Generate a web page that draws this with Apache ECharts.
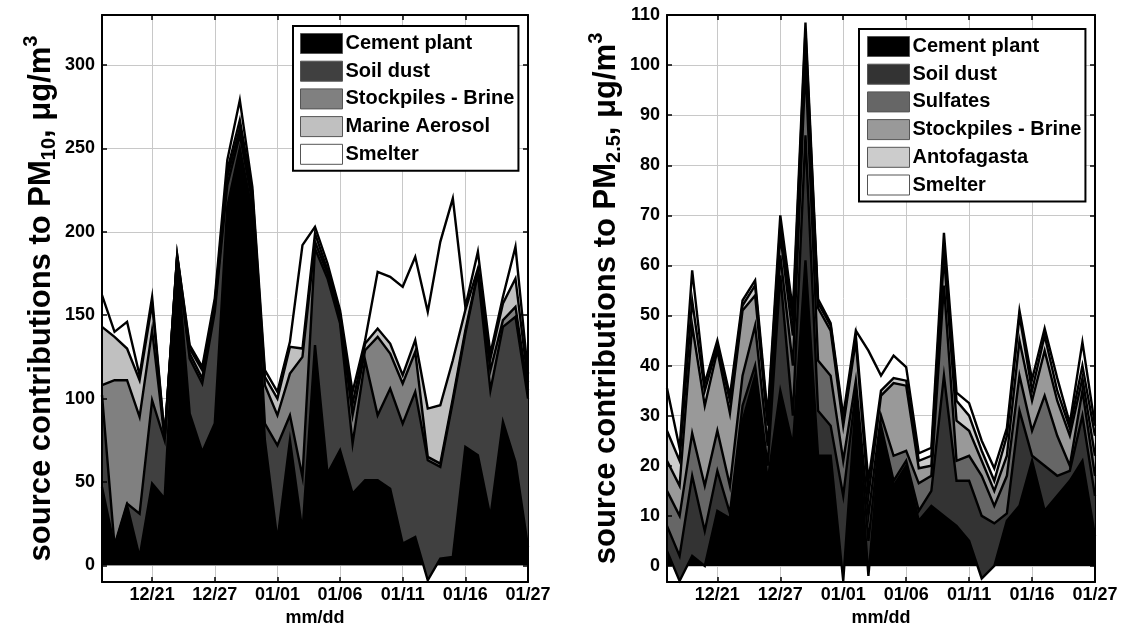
<!DOCTYPE html>
<html><head><meta charset="utf-8">
<script src="https://cdn.jsdelivr.net/npm/echarts@6/dist/echarts.min.js"></script>
<style>html,body{margin:0;padding:0;background:#fff}#c{width:1121px;height:627px}</style>
</head><body><div id="c"></div>
<script>
// ---- data ----
const dates = ['12/17','12/18','12/19','12/20','12/21','12/22','12/23','12/24','12/26','12/27','12/28','12/29','12/30','12/31','01/01','01/02','01/03','01/04','01/05','01/06','01/07','01/08','01/09','01/10','01/11','01/12','01/13','01/14','01/15','01/16','01/18','01/20','01/22','01/25','01/27'];
const tickIdx = [4, 9, 14, 19, 24, 29, 34];
const pm10Ticks = [0, 50, 100, 150, 200, 250, 300];
const pm25Ticks = [0, 10, 20, 30, 40, 50, 60, 70, 80, 90, 100, 110];

const pm10Names = ['Cement plant', 'Soil dust', 'Stockpiles - Brine', 'Marine Aerosol', 'Smelter'];
const pm10Cement  = [47,11,36,5,49,40,184,91,68,85,215,250,212,75,15,75,20,132,55,69,43,51,51,46,13,17,-9,4,5,71,66,29,86,62,11];
const pm10Soil    = [55,1,1,26,50,35,1,33,41,67,13,8,6,10,57,15,33,58,117,76,30,72,39,60,72,87,72,55,93,68,109,76,57,87,89];
const pm10Stock   = [6,99,74,58,42,1,0,3,3,3,5,4,3,23,18,25,72,4,3,2,17,6,47,21,24,24,2,2,2,2,1,12,4,6,5];
const pm10Marine  = [35,26,19,22,16,1,1,3,5,2,4,5,3,5,10,16,5,5,2,4,7,4,5,6,5,7,29,35,23,12,2,7,10,17,5];
const pm10Smelter = [19,3,16,3,4,0,0,2,2,3,6,12,3,4,4,3,62,4,4,2,7,2,34,40,53,50,58,98,97,2,10,3,4,19,5];

const pm25Names = ['Cement plant', 'Soil dust', 'Sulfates', 'Stockpiles - Brine', 'Antofagasta', 'Smelter'];
const pm25Cement  = [3,-3,2,0,11,9.5,29,38,17,35,24,61,22,22,-3,33,-2,27,16,20,9,12,10,8,5,-2.5,0,9,12,21,11,14,17,21,6];
const pm25Soil    = [5,5,16,7,8,1,3,2,3,23,6,25,9,6,17,2,7,1,1,1,2,3,28,9,12,12.5,8.5,1.5,19,1,9,4,2,9,8];
const pm25Sulf    = [7,8,8.5,9,8,5.5,6,8,4,4,10,14,10,10,7,2,5,2,5,2,5.5,3,18,4,5,8,3.5,7.5,7,5,14,8,1,5,4];
const pm25Stock   = [6,6,21.5,16,16,14.5,13,6,4,4,6,5,10.5,9,7,8,4,4,14.5,13,3,2,6,8,5,3,3,4,7,6,9,7,6,2.5,4];
const pm25Anto    = [6,5,5,3,1,2.5,1,2,1,2,3,2,1,1,1,1,3,1,1,1,1.5,2,2,4,3,2,2,4,5,2,3,2,1.5,2.5,4];
const pm25Smelt   = [8.5,2.5,6,1.5,1,1,1,1,1,2,2,1.5,0.8,0.5,1,1,26,3,4.5,2.7,1.5,1.6,2.5,1.6,2.5,2,2.5,1.5,1,2.2,1.4,2.5,1,4.7,2];

// ---- styles ----
const pm10Colors = ['#000000', '#404040', '#808080', '#c0c0c0', '#ffffff'];
const pm25Colors = ['#000000', '#333333', '#666666', '#999999', '#cccccc', '#ffffff'];
const FONT = '"Liberation Sans", Arial, Helvetica, sans-serif';
const GRIDC = '#c8c8c8';

const isTick = (i) => tickIdx.indexOf(i) >= 0;
const frameLine = { show: true, onZero: false, lineStyle: { color: '#000', width: 2 } };
const tickStyle = { color: '#000', width: 1.5 };

function xAxes(gi) {
  return [
    { type: 'category', gridIndex: gi, data: dates, boundaryGap: false, position: 'bottom', z: 10,
      axisLine: frameLine,
      axisTick: { show: true, inside: true, length: 5, interval: (i) => isTick(i), lineStyle: tickStyle },
      axisLabel: { interval: (i) => isTick(i), fontSize: 18, fontWeight: 'bold', color: '#000', fontFamily: FONT, margin: 4 },
      splitLine: { show: false },
      name: 'mm/dd', nameLocation: 'middle', nameGap: 18,
      nameTextStyle: { fontSize: 18, fontWeight: 'bold', color: '#000', fontFamily: FONT } },
    { type: 'category', gridIndex: gi, data: dates, boundaryGap: false, position: 'top', z: 0,
      axisLine: frameLine,
      axisTick: { show: true, inside: true, length: 5, interval: (i) => isTick(i), lineStyle: tickStyle },
      axisLabel: { show: false },
      splitLine: { show: true, interval: (i) => isTick(i), lineStyle: { color: GRIDC, width: 1 } } }
  ];
}

function yAxes(gi, min, max, ticks, sub) {
  const common = { type: 'value', gridIndex: gi, min: min, max: max };
  return [
    Object.assign({}, common, { position: 'left', z: 10,
      axisLine: frameLine,
      axisTick: { show: true, inside: true, length: 5, customValues: ticks, lineStyle: tickStyle },
      axisLabel: { customValues: ticks, fontSize: 18, fontWeight: 'bold', color: '#000', fontFamily: FONT, margin: 7 },
      splitLine: { show: false },
      name: 'source contributions to PM{sub|' + sub + '}, μg/m{sup|3}',
      nameLocation: 'middle', nameGap: 41, nameRotate: 90,
      nameTextStyle: { fontSize: 31, fontWeight: 'bold', color: '#000', fontFamily: FONT,
        rich: { sub: { fontSize: 20, fontWeight: 'bold', fontFamily: FONT, color: '#000', padding: [17, 0, 0, 0] },
                sup: { fontSize: 20, fontWeight: 'bold', fontFamily: FONT, color: '#000', padding: [0, 0, 20, 0] } } } }),
    Object.assign({}, common, { position: 'right', z: 0,
      axisLine: frameLine,
      axisTick: { show: true, inside: true, length: 5, customValues: ticks, lineStyle: tickStyle },
      axisLabel: { show: false, customValues: ticks },
      splitLine: { show: true, lineStyle: { color: GRIDC, width: 1 } } })
  ];
}

function buildSeries(names, values, colors, xi, yi, stackId) {
  const out = [];
  names.forEach((n, k) => out.push({
    name: n, type: 'line', xAxisIndex: xi, yAxisIndex: yi, stack: stackId + 'A', stackStrategy: 'all',
    data: values[k], symbol: 'none', color: colors[k], silent: true, z: 2,
    lineStyle: { opacity: 0, width: 0 }, areaStyle: { color: colors[k], opacity: 1 }
  }));
  names.forEach((n, k) => out.push({
    name: stackId + '_edge_' + k, type: 'line', xAxisIndex: xi, yAxisIndex: yi, stack: stackId + 'L', stackStrategy: 'all',
    data: values[k], symbol: 'none', silent: true, z: 3,
    lineStyle: { color: '#000', width: 2.4, join: 'miter' }
  }));
  return out;
}

function legend(names, colors, left, top, padding) {
  return {
    orient: 'vertical', left: left, top: top, selectedMode: false, z: 20,
    itemWidth: 42, itemHeight: 20, itemGap: 6.7, padding: padding,
    backgroundColor: '#fff', borderColor: '#000', borderWidth: 2, borderRadius: 0,
    icon: 'rect',
    textStyle: { fontSize: 20, fontWeight: 'bold', color: '#000', fontFamily: FONT, padding: [0, 0, 0, -2] },
    data: names.map((n, k) => ({ name: n, icon: 'rect', itemStyle: { color: colors[k], borderColor: '#555', borderWidth: 1 } }))
  };
}

const chart = echarts.init(document.getElementById('c'), null, { renderer: 'canvas' });
chart.setOption({
  animation: false,
  backgroundColor: '#fff',
  grid: [
    { left: 102, right: 593, top: 15, bottom: 45, containLabel: false, outerBoundsMode: 'none' },
    { left: 667, right: 26, top: 15, bottom: 45, containLabel: false, outerBoundsMode: 'none' }
  ],
  xAxis: xAxes(0).concat(xAxes(1)),
  yAxis: yAxes(0, -10, 330, pm10Ticks, '10').concat(yAxes(1, -3.2, 110, pm25Ticks, '2.5')),
  legend: [
    legend(pm10Names, pm10Colors, 293, 26, [7, 4, 6, 7]),
    legend(pm25Names, pm25Colors, 859, 29, [7, 4, 6, 8])
  ],
  series: buildSeries(pm10Names, [pm10Cement, pm10Soil, pm10Stock, pm10Marine, pm10Smelter], pm10Colors, 0, 0, 'pm10')
    .concat(buildSeries(pm25Names, [pm25Cement, pm25Soil, pm25Sulf, pm25Stock, pm25Anto, pm25Smelt], pm25Colors, 2, 2, 'pm25'))
});
</script></body></html>
